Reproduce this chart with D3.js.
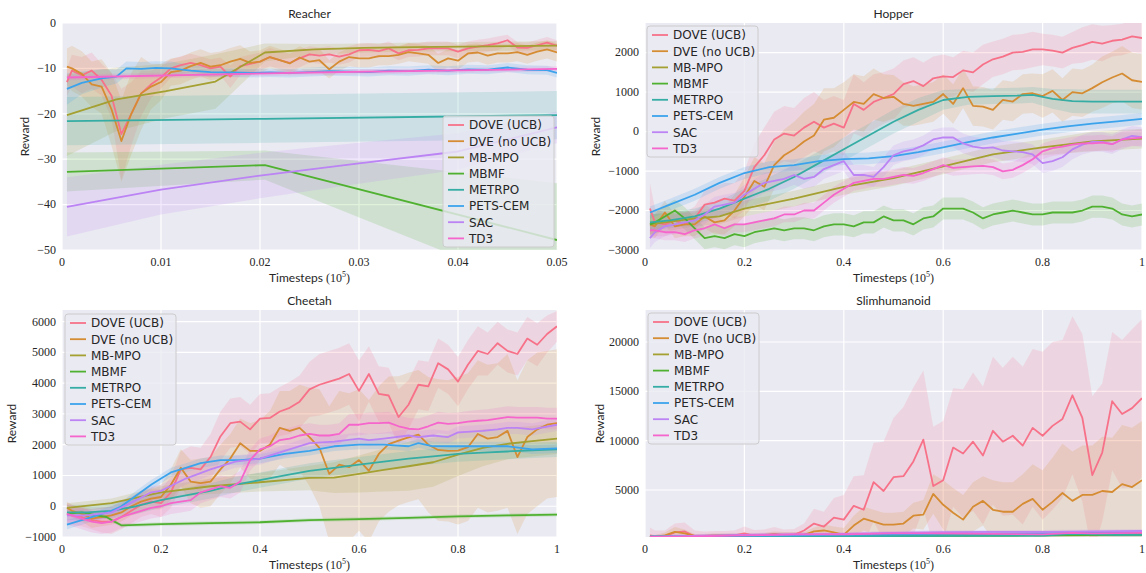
<!DOCTYPE html>
<html>
<head>
<meta charset="UTF-8">
<style>
  body { margin: 0; background: #fff; }
  svg { display: block; }
  .tick { font-family: "Liberation Serif", "DejaVu Serif", serif; font-size: 12px; fill: #262626; }
  .title, .axlabel { font: 12px Lato, sans-serif; fill: #262626; }
  .legend text { font: 12px "DejaVu Sans", sans-serif; fill: #262626; }
</style>
</head>
<body>
<svg id="chart" width="1146" height="573"></svg>
<script src="https://d3js.org/d3.v7.min.js"></script>
<script>
const methods = ["DOVE (UCB)", "DVE (no UCB)", "MB-MPO", "MBMF", "METRPO", "PETS-CEM", "SAC", "TD3"];
const colors = ["#f77189", "#d58c32", "#a4a031", "#50b131", "#36ada4", "#3ba3ec", "#bb83f4", "#f565cc"];

// evaluation checkpoints
const reacherX = [0.0005].concat(d3.range(1, 51).map(i => +(i * 0.001).toFixed(3)));
const stepX = [0.01].concat(d3.range(1, 51).map(i => +(i * 0.02).toFixed(2)));

// ---------- Reacher ----------
const reacherDove = [-13,-10.5,-11.5,-10.5,-12.5,-16,-24.5,-20,-15.5,-13.5,-12,-10,-9.3,-8.8,-9.3,-10,-9.6,-11.8,-9.5,-9,-8.5,-7.5,-8.2,-8.8,-7.8,-6.9,-7.2,-6.9,-7.4,-6.9,-6,-5.9,-6.2,-5.6,-6.7,-6,-5.9,-5.6,-5.6,-5.6,-6.3,-5.6,-5.2,-4.9,-4.5,-3.8,-5.4,-5.5,-4.9,-4.3,-5];
const reacherDoveSd = [3,3.5,4,4,3.5,5,10,7,5,3,2.5,2,2,2,2,2,2,2.5,2,2,2,2,2,2,2,1.8,1.8,1.8,1.8,1.8,1.5,1.5,1.5,1.5,1.5,1.5,1.5,1.5,1.5,1.5,1.5,1.5,1.5,1.5,1.5,1.2,1.2,1.2,1.2,1.2,1.2];
const reacherDve = [-9.6,-10,-11.2,-13.5,-14,-19,-26,-20,-15.5,-14,-13,-10.8,-10.5,-9.5,-8.8,-9.6,-9.3,-8.5,-7.9,-8.8,-8.5,-7.5,-8.2,-8.9,-7.6,-8.5,-8.2,-10.2,-8.5,-7.5,-7.8,-7.8,-7.3,-7.3,-7,-6.4,-6.7,-7,-8.8,-7.8,-8.3,-6.7,-6.5,-7.2,-6.7,-6.7,-6.4,-7,-6.3,-5.8,-6.5];
const reacherDveSd = [4,5,5,5,6,8,9,9,8,5,4,3,3,3,3,3,3,3,3,2.5,2.5,2.5,2.5,2.5,2.5,2.5,2.5,2,2,2,2,2,2,2,2,2,2,2,2,2,2,2,2,2,2,2,2,2,2,2,2];
const reacherMbmpoX = [0.0005,0.0055,0.0105,0.0155,0.0205,0.0255,0.0305,0.0355,0.0405,0.0455,0.05];
const reacherMbmpo = [-20.3,-16.8,-15,-12.9,-6.5,-5.8,-5.5,-5.3,-5.2,-5.1,-5];
const reacherMbmpoSd = [9,7,6,6,2,1.2,1,1,1,1,1];
const reacherLineX = [0.0005,0.0205,0.05];
const reacherMbmf = [-32.8,-31.3,-47.8];
const reacherMbmfSd = [4.3,3.2,12.5];
const reacherMetrpo = [-21.6,-21.1,-20.3];
const reacherPetsX = [0.0005,0.002,0.004,0.0055,0.0065,0.008,0.0095,0.011,0.013,0.015,0.017,0.019,0.021,0.023,0.025,0.027,0.029,0.031,0.033,0.035,0.037,0.039,0.041,0.043,0.045,0.047,0.049,0.05];
const reacherPets = [-14.5,-13.2,-12.2,-11.8,-10,-10.1,-9.9,-10,-10.5,-10.8,-10.9,-11,-10.9,-11,-10.8,-10.6,-10.7,-10.8,-10.5,-10.6,-10.3,-10.5,-10.2,-10.3,-9.8,-10.3,-10.4,-11];
const reacherPetsSd = [3.5,2.5,2,1.5,1.5,1.5,1.5,1.5,1.2,1,1,1,1,1,1,1,1,1,1,1,1,1,1,1,1,1,1,1];
const reacherSacX = [0.0005,0.01,0.02,0.03,0.04,0.05];
const reacherSac = [-40.5,-36.7,-33.6,-30.9,-28.3,-23];
const reacherSacSd = [6.5,5.5,5,4.5,4,3.5];
const reacherTd3X = [0.0005,0.025,0.05];
const reacherTd3 = [-12,-10.9,-10.1];

// ---------- Hopper ----------
const hopperDove = [-1950,-2300,-2350,-2250,-2350,-2200,-1850,-1800,-1700,-1750,-1500,-900,-600,-200,-50,-100,100,250,100,200,100,700,550,750,850,950,1200,1280,1150,1350,1400,1380,1550,1500,1700,1830,1900,2000,2020,2080,2080,2050,2000,2120,2190,2270,2230,2300,2330,2410,2370];
const hopperDoveSd = [650,350,300,300,300,300,350,400,400,450,500,600,700,700,700,700,750,750,700,700,700,750,700,700,650,650,600,600,600,550,550,500,500,500,500,450,450,450,450,450,400,400,400,400,450,450,450,400,400,400,400];
const hopperDve = [-2350,-2400,-2050,-2400,-2350,-2350,-2150,-2300,-2250,-2000,-1650,-1250,-1400,-850,-600,-450,-250,-100,300,350,550,750,700,950,850,880,700,650,700,750,950,700,1100,650,630,550,800,760,950,970,900,1030,800,1000,970,1100,1250,1370,1470,1300,1260];
const hopperDveSd = [300,300,300,300,300,300,300,300,350,400,500,600,600,600,650,700,750,800,800,750,700,700,700,650,600,550,550,500,500,500,500,500,500,500,500,500,500,500,500,500,550,550,550,600,600,600,650,650,700,700,700];
const hopperMbmpoX = [0.01,0.1,0.15,0.2,0.3,0.4,0.5,0.6,0.7,0.8,0.9,1.0];
const hopperMbmpo = [-2350,-2200,-2150,-1950,-1700,-1400,-1180,-880,-580,-400,-250,-180];
const hopperMbmpoSd = [250,200,200,200,200,200,200,200,200,200,250,250];
const hopperMbmf = [-2350,-2300,-2150,-2000,-2200,-2450,-2700,-2650,-2700,-2600,-2650,-2550,-2500,-2450,-2500,-2450,-2450,-2500,-2400,-2350,-2350,-2400,-2300,-2300,-2150,-2250,-2250,-2350,-2200,-2150,-1950,-1950,-1950,-2050,-2200,-2100,-2050,-2000,-2050,-2100,-2100,-2050,-2050,-2050,-2000,-1900,-1900,-1950,-2100,-2150,-2100];
const hopperMetrpoX = [0.01,0.05,0.1,0.15,0.2,0.25,0.3,0.35,0.4,0.45,0.5,0.55,0.6,0.65,0.7,0.75,0.78,0.82,0.86,0.9,1.0];
const hopperMetrpo = [-2300,-2250,-2150,-1950,-1700,-1450,-1150,-800,-450,-100,250,550,800,880,900,910,930,830,770,760,760];
const hopperMetrpoSd = [200,200,200,200,250,300,300,300,300,300,300,300,250,200,200,200,200,250,300,300,300];
const hopperPetsX = [0.01,0.05,0.1,0.15,0.2,0.25,0.3,0.35,0.4,0.45,0.5,0.55,0.6,0.65,0.7,0.75,0.8,0.85,0.9,0.95,1.0];
const hopperPets = [-2050,-1850,-1600,-1300,-1050,-900,-850,-750,-700,-680,-620,-520,-400,-270,-150,-50,50,130,200,260,320];
const hopperSac = [-2700,-2550,-2400,-2350,-2300,-2250,-2100,-1900,-1850,-1800,-1600,-1450,-1300,-1250,-1200,-1100,-1200,-1150,-950,-850,-750,-1100,-1100,-1150,-900,-600,-500,-450,-350,-200,-150,-150,-300,-380,-420,-400,-480,-500,-520,-580,-800,-750,-650,-450,-330,-260,-260,-320,-200,-110,-140];
const hopperTd3 = [-2500,-2500,-2550,-2550,-2600,-2500,-2450,-2350,-2450,-2350,-2350,-2300,-2250,-2200,-2100,-2100,-2000,-2000,-1800,-1600,-1450,-1300,-1250,-1200,-1200,-1150,-1100,-1120,-1050,-950,-850,-920,-900,-880,-870,-900,-1010,-970,-850,-700,-500,-420,-380,-330,-300,-300,-280,-320,-200,-170,-150];

// ---------- Cheetah ----------
const cheetahDove = [-250,-300,-350,-450,-500,-500,-350,-150,50,150,100,450,1200,1250,1200,1600,2270,2700,2750,2500,2850,2870,3080,3200,3400,3800,3950,4050,4150,4300,3750,4300,3650,3600,2900,3300,3950,3900,4650,4450,4050,4600,5050,4950,5300,5050,4950,5450,5250,5600,5850];
const cheetahDoveSd = [300,300,300,300,350,400,400,400,400,400,450,500,600,700,700,750,800,800,800,800,800,800,800,850,850,900,1000,1000,1000,1000,1000,900,900,900,900,800,800,800,800,800,800,800,800,700,700,700,700,700,700,600,500];
const cheetahDve = [-50,-150,-250,-400,-350,-300,-200,0,150,250,300,700,1250,800,750,800,1200,1550,2050,1800,1800,2000,2550,2450,2550,2250,1900,1050,1350,1270,1500,1150,1700,2020,2130,2240,2330,2000,1830,1800,1810,1920,2350,2200,2250,2450,1600,2250,2500,2650,2700];
const cheetahDveSd = [200,200,250,300,300,300,300,300,350,350,400,500,600,700,800,800,800,800,800,900,1000,1100,1200,1300,1400,1600,1900,2200,2400,2400,2300,2300,2200,2200,2100,2100,2100,2200,2300,2300,2400,2400,2400,2400,2400,2500,2500,2500,2500,2400,2400];
const cheetahMbmpoX = [0.01,0.1,0.2,0.3,0.4,0.5,0.55,0.6,0.65,0.7,0.75,0.8,0.85,0.9,0.95,1.0];
const cheetahMbmpo = [-50,100,450,650,780,920,930,1050,1180,1300,1430,1680,1900,2030,2120,2200];
const cheetahMbmpoSd = [150,150,200,250,300,400,500,600,700,800,800,700,600,500,500,500];
const cheetahMbmfX = [0.01,0.04,0.07,0.09,0.1,0.12,0.2,0.3,0.4,0.5,0.6,0.7,0.8,0.9,1.0];
const cheetahMbmf = [-250,-200,-300,-350,-450,-620,-580,-550,-520,-450,-420,-380,-330,-300,-270];
const cheetahMetrpoX = [0.01,0.05,0.1,0.15,0.2,0.25,0.3,0.35,0.4,0.45,0.5,0.55,0.6,0.65,0.7,0.75,0.8,0.85,0.9,0.95,1.0];
const cheetahMetrpo = [-200,-200,-150,0,200,350,500,700,850,1000,1150,1250,1350,1450,1550,1620,1700,1740,1780,1820,1850];
const cheetahPetsX = [0.01,0.05,0.1,0.12,0.15,0.18,0.2,0.22,0.25,0.28,0.32,0.36,0.4,0.45,0.5,0.55,0.6,0.65,0.7,0.72,0.75,0.8,0.85,0.9,0.95,1.0];
const cheetahPets = [-600,-400,-150,0,350,700,900,1100,1250,1400,1500,1500,1550,1700,1800,1950,2000,2000,1950,2050,1950,1950,1950,1950,1850,1880];
const cheetahSacX = [0.01,0.05,0.1,0.15,0.18,0.2,0.25,0.3,0.35,0.4,0.45,0.5,0.55,0.6,0.62,0.65,0.7,0.72,0.75,0.78,0.8,0.85,0.88,0.9,0.92,0.95,1.0];
const cheetahSac = [-300,-300,-200,200,450,500,900,1200,1450,1550,1800,2050,2100,2200,2150,2200,2300,2250,2300,2250,2400,2450,2500,2550,2550,2500,2650];
const cheetahTd3 = [-250,-300,-400,-500,-550,-500,-350,-250,-150,-50,0,100,150,200,450,550,650,600,800,1500,1850,1950,2150,2200,2300,2350,2300,2300,2350,2650,2650,2700,2700,2720,2600,2520,2500,2600,2720,2680,2700,2750,2780,2800,2850,2900,2880,2880,2880,2850,2850];

// ---------- Slimhumanoid ----------
const slimDove = [400,300,300,700,800,300,300,350,350,400,600,350,400,550,400,450,900,1600,1300,2200,2000,3400,3000,5800,4900,6300,6400,7900,10100,5400,6000,9300,8700,9900,8500,11000,9900,10500,9500,11300,10500,11500,12200,14600,12300,6500,8800,14000,12700,13300,14300];
const slimDoveSd = [800,600,600,900,900,600,500,500,500,500,700,600,600,700,600,600,700,1500,1500,2000,2500,3000,3500,4000,5000,6000,7000,7500,7000,6000,6000,6000,6500,7000,7000,7500,7500,8000,8000,8000,8500,8500,8000,8000,8500,8000,7000,7000,7500,8000,8000];
const slimDve = [300,250,400,750,600,350,350,400,400,400,400,400,450,500,450,450,450,800,900,700,450,1400,2100,1800,1500,1500,1600,2400,2500,4600,3500,2700,2000,3300,3900,3000,2800,2800,3600,4100,3000,3800,4700,3900,4500,4500,4900,4800,5600,5300,6000];
const slimDveSd = [200,200,300,500,400,200,200,200,200,200,200,200,200,300,300,300,300,400,600,600,700,1000,1200,1200,1200,1200,1200,1300,1500,2000,2500,2500,2500,2500,2500,3000,3000,3000,3000,3500,4000,4500,5000,5000,5000,5000,5500,5500,6000,6000,6000];
const slimFlatX = [0.01,0.2,0.4,0.6,0.8,1.0];
const slimMbmpo = [250,300,350,450,500,600];
const slimMbmf = [250,280,320,350,400,450];
const slimPets = [300,380,450,550,600,700];
const slimMetrpoX = [0.01,0.2,0.4,0.6,0.8,0.86,0.9,0.95,1.0];
const slimMetrpo = [250,280,320,350,380,550,500,450,450];
const slimSacX = [0.01,0.1,0.2,0.3,0.4,0.5,0.6,0.7,0.8,0.9,1.0];
const slimSac = [250,350,450,500,550,650,720,750,760,800,850];
const slimTd3X = [0.01,0.1,0.2,0.3,0.4,0.5,0.6,0.7,0.8,0.86,0.9,1.0];
const slimTd3 = [250,300,400,500,500,600,600,550,500,650,600,650];

function series(x, y, s) {
  return x.map((xi, i) => ({ x: xi, y: y[i], s: Array.isArray(s) ? s[i] : s }));
}

const panels = [
  {
    title: "Reacher", left: 62, top: 23, w: 495, h: 227,
    xDomain: [0, 0.05], yDomain: [-50, 0],
    xTicks: [0, 0.01, 0.02, 0.03, 0.04, 0.05], yTicks: [-50, -40, -30, -20, -10, 0],
    legend: [443, 116], ylabelX: 25,
    data: [
      series(reacherX, reacherDove, reacherDoveSd),
      series(reacherX, reacherDve, reacherDveSd),
      series(reacherMbmpoX, reacherMbmpo, reacherMbmpoSd),
      series(reacherLineX, reacherMbmf, reacherMbmfSd),
      series(reacherLineX, reacherMetrpo, 5.3),
      series(reacherPetsX, reacherPets, reacherPetsSd),
      series(reacherSacX, reacherSac, reacherSacSd),
      series(reacherTd3X, reacherTd3, 0.6)
    ]
  },
  {
    title: "Hopper", left: 645, top: 23, w: 497, h: 227,
    xDomain: [0, 1], yDomain: [-3000, 2750],
    xTicks: [0, 0.2, 0.4, 0.6, 0.8, 1], yTicks: [-3000, -2000, -1000, 0, 1000, 2000],
    legend: [647, 26], ylabelX: 596,
    data: [
      series(stepX, hopperDove, hopperDoveSd),
      series(stepX, hopperDve, hopperDveSd),
      series(hopperMbmpoX, hopperMbmpo, hopperMbmpoSd),
      series(stepX, hopperMbmf, 280),
      series(hopperMetrpoX, hopperMetrpo, hopperMetrpoSd),
      series(hopperPetsX, hopperPets, 150),
      series(stepX, hopperSac, 250),
      series(stepX, hopperTd3, 200)
    ]
  },
  {
    title: "Cheetah", left: 62, top: 310, w: 495, h: 227,
    xDomain: [0, 1], yDomain: [-1000, 6380],
    xTicks: [0, 0.2, 0.4, 0.6, 0.8, 1], yTicks: [-1000, 0, 1000, 2000, 3000, 4000, 5000, 6000],
    legend: [65, 314], ylabelX: 12,
    data: [
      series(stepX, cheetahDove, cheetahDoveSd),
      series(stepX, cheetahDve, cheetahDveSd),
      series(cheetahMbmpoX, cheetahMbmpo, cheetahMbmpoSd),
      series(cheetahMbmfX, cheetahMbmf, 60),
      series(cheetahMetrpoX, cheetahMetrpo, 250),
      series(cheetahPetsX, cheetahPets, 150),
      series(cheetahSacX, cheetahSac, 200),
      series(stepX, cheetahTd3, 350)
    ]
  },
  {
    title: "Slimhumanoid", left: 645, top: 310, w: 497, h: 227,
    xDomain: [0, 1], yDomain: [240, 23240],
    xTicks: [0, 0.2, 0.4, 0.6, 0.8, 1], yTicks: [5000, 10000, 15000, 20000],
    legend: [648, 313], ylabelX: 600,
    data: [
      series(stepX, slimDove, slimDoveSd),
      series(stepX, slimDve, slimDveSd),
      series(slimFlatX, slimMbmpo, 150),
      series(slimFlatX, slimMbmf, 100),
      series(slimMetrpoX, slimMetrpo, 150),
      series(slimFlatX, slimPets, 150),
      series(slimSacX, slimSac, 200),
      series(slimTd3X, slimTd3, 200)
    ]
  }
];

const fmt = d => d === 0 ? "0" : (d < 0 ? "\u2212" + Math.abs(d) : String(d));
const svg = d3.select("#chart");

panels.forEach((p, pi) => {
  const x = d3.scaleLinear().domain(p.xDomain).range([p.left, p.left + p.w]);
  const y = d3.scaleLinear().domain(p.yDomain).range([p.top + p.h, p.top]);
  const g = svg.append("g");

  g.append("clipPath").attr("id", "clip" + pi)
    .append("rect").attr("x", p.left).attr("y", p.top).attr("width", p.w).attr("height", p.h);

  g.append("rect").attr("x", p.left).attr("y", p.top).attr("width", p.w).attr("height", p.h)
    .attr("fill", "#eaeaf2");

  // grid
  g.selectAll(".gx").data(p.xTicks).enter().append("line")
    .attr("x1", d => x(d)).attr("x2", d => x(d)).attr("y1", p.top).attr("y2", p.top + p.h)
    .attr("stroke", "#fff").attr("stroke-width", 1.2);
  g.selectAll(".gy").data(p.yTicks).enter().append("line")
    .attr("x1", p.left).attr("x2", p.left + p.w).attr("y1", d => y(d)).attr("y2", d => y(d))
    .attr("stroke", "#fff").attr("stroke-width", 1.2);

  const plot = g.append("g").attr("clip-path", "url(#clip" + pi + ")");
  const area = d3.area().x(d => x(d.x)).y0(d => y(d.y - d.s)).y1(d => y(d.y + d.s));
  const line = d3.line().x(d => x(d.x)).y(d => y(d.y));

  plot.selectAll(".band").data(p.data).enter().append("path")
    .attr("d", area).attr("fill", (d, i) => colors[i]).attr("fill-opacity", 0.17).attr("stroke", "none");
  plot.selectAll(".ln").data(p.data).enter().append("path")
    .attr("d", line).attr("fill", "none").attr("stroke", (d, i) => colors[i])
    .attr("stroke-width", 1.8).attr("stroke-linejoin", "round");

  // tick labels
  g.selectAll(".xt").data(p.xTicks).enter().append("text").attr("class", "tick")
    .attr("x", d => x(d)).attr("y", p.top + p.h + 16).attr("text-anchor", "middle").text(fmt);
  g.selectAll(".yt").data(p.yTicks).enter().append("text").attr("class", "tick")
    .attr("x", p.left - 6).attr("y", d => y(d)).attr("dy", "0.32em").attr("text-anchor", "end").text(fmt);

  // title and labels
  g.append("text").attr("class", "title").attr("x", p.left + p.w / 2).attr("y", p.top - 5)
    .attr("text-anchor", "middle").text(p.title);

  const xl = g.append("text").attr("class", "axlabel").attr("x", p.left + p.w / 2).attr("y", p.top + p.h + 32)
    .attr("text-anchor", "middle");
  xl.append("tspan").text("Timesteps ");
  xl.append("tspan").style("font-family", "Liberation Serif, serif").text("(10");
  xl.append("tspan").style("font-family", "Liberation Serif, serif").style("font-size", "8px").attr("dy", -5).text("5");
  xl.append("tspan").style("font-family", "Liberation Serif, serif").attr("dy", 5).text(")");

  g.append("text").attr("class", "axlabel")
    .attr("transform", "translate(" + p.ylabelX + "," + (p.top + p.h / 2) + ") rotate(-90)")
    .attr("dy", "0.35em").attr("text-anchor", "middle").text("Reward");

  // legend
  const lg = g.append("g").attr("class", "legend").attr("transform", "translate(" + p.legend[0] + "," + p.legend[1] + ")");
  lg.append("rect").attr("width", 111).attr("height", 131).attr("rx", 3)
    .attr("fill", "#eaeaf2").attr("fill-opacity", 0.8).attr("stroke", "#cccccc").attr("stroke-width", 1);
  methods.forEach((m, i) => {
    const cy = 9 + i * 16.2;
    lg.append("line").attr("x1", 5).attr("x2", 21).attr("y1", cy).attr("y2", cy)
      .attr("stroke", colors[i]).attr("stroke-width", 1.8);
    lg.append("text").attr("x", 26).attr("y", cy).attr("dy", "0.36em").text(m);
  });
});
</script>
</body>
</html>
